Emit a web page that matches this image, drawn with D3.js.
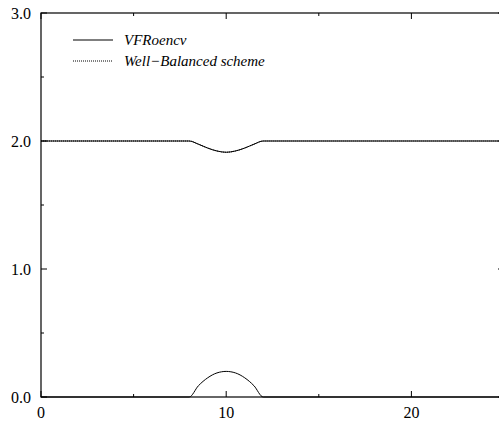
<!DOCTYPE html>
<html>
<head>
<meta charset="utf-8">
<title>VFRoencv vs Well-Balanced</title>
<script src="https://d3js.org/d3.v7.min.js"></script>
<style>
  body { margin: 0; background: #fff; }
</style>
</head>
<body>
<div id="chart"></div>
<script>
// values
var xTicks = [0, 10, 20];
var xMinor = [5, 15, 25];
var yTicks = [0, 1, 2, 3];
var yMinor = [0.5, 1.5, 2.5];

var surfX = [0, 8, 8.5, 9, 9.5, 10, 10.5, 11, 11.5, 12, 25];
var vfroencv = [2.0, 2.0, 1.975, 1.945, 1.922, 1.912, 1.922, 1.945, 1.975, 2.0, 2.0];
var wellBalanced = [2.0, 2.0, 1.975, 1.945, 1.922, 1.912, 1.922, 1.945, 1.975, 2.0, 2.0];
var bottomX = [0, 8, 8.5, 9, 9.5, 10, 10.5, 11, 11.5, 12, 25];
var bottomZ = [0, 0, 0.088, 0.15, 0.188, 0.2, 0.188, 0.15, 0.088, 0, 0];

var seriesNames = ["VFRoencv", "Well\u2212Balanced scheme"];

var W = 499, H = 425;
var m = { left: 41, right: 504, top: 13, bottom: 397 };
var FONT = "Liberation Serif";

var svg = d3.select("#chart").append("svg")
  .attr("width", W).attr("height", H);

var x = d3.scaleLinear().domain([0, 25]).range([m.left, m.right]);
var y = d3.scaleLinear().domain([0, 3]).range([m.bottom, m.top]);

// frame
svg.append("rect")
  .attr("x", m.left).attr("y", m.top)
  .attr("width", m.right - m.left).attr("height", m.bottom - m.top)
  .attr("fill", "none").attr("stroke", "#000").attr("stroke-width", 1.2);

// ticks, pointing inward on all four sides
var g = svg.append("g").attr("stroke", "#000").attr("stroke-width", 1);
xTicks.concat(xMinor).forEach(function(v) {
  var len = xTicks.indexOf(v) >= 0 ? 6 : 3;
  g.append("line").attr("x1", x(v)).attr("x2", x(v)).attr("y1", m.bottom).attr("y2", m.bottom - len);
  g.append("line").attr("x1", x(v)).attr("x2", x(v)).attr("y1", m.top).attr("y2", m.top + len);
});
yTicks.concat(yMinor).forEach(function(v) {
  var len = yTicks.indexOf(v) >= 0 ? 6 : 3;
  g.append("line").attr("y1", y(v)).attr("y2", y(v)).attr("x1", m.left).attr("x2", m.left + len);
  g.append("line").attr("y1", y(v)).attr("y2", y(v)).attr("x1", m.right).attr("x2", m.right - len);
});

// tick labels
svg.selectAll(".xl").data(xTicks).enter().append("text")
  .attr("x", function(d) { return x(d); })
  .attr("y", m.bottom + 21)
  .attr("text-anchor", "middle")
  .style("font-size", "16px")
  .style("font-family", FONT)
  .text(function(d) { return d; });

svg.selectAll(".yl").data(yTicks).enter().append("text")
  .attr("x", m.left - 10)
  .attr("y", function(d) { return y(d) + 5.5; })
  .attr("text-anchor", "end")
  .style("font-size", "16px")
  .style("font-family", FONT)
  .text(function(d) { return d3.format(".1f")(d); });

// lines
var line = d3.line()
  .x(function(d) { return x(d[0]); })
  .y(function(d) { return y(d[1]); })
  .curve(d3.curveMonotoneX);

svg.append("path")
  .datum(d3.zip(bottomX, bottomZ))
  .attr("d", line)
  .attr("fill", "none").attr("stroke", "#000").attr("stroke-width", 1);

svg.append("path")
  .datum(d3.zip(surfX, vfroencv))
  .attr("d", line)
  .attr("fill", "none").attr("stroke", "#000").attr("stroke-width", 1);

svg.append("path")
  .datum(d3.zip(surfX, wellBalanced))
  .attr("d", line)
  .attr("fill", "none").attr("stroke", "#000").attr("stroke-width", 1)
  .attr("stroke-dasharray", "1,1");

// legend
var leg = svg.append("g");
seriesNames.forEach(function(name, i) {
  var ly = 40 + i * 21;
  leg.append("line")
    .attr("x1", 73).attr("x2", 113).attr("y1", ly).attr("y2", ly)
    .attr("stroke", "#000").attr("stroke-width", i === 0 ? 1.2 : 1)
    .attr("stroke-dasharray", i === 0 ? null : "1,1");
  leg.append("text")
    .attr("x", 124).attr("y", ly + 5)
    .style("font-size", "15px")
    .style("font-style", "italic")
    .style("font-family", FONT)
    .text(name);
});
</script>
</body>
</html>
